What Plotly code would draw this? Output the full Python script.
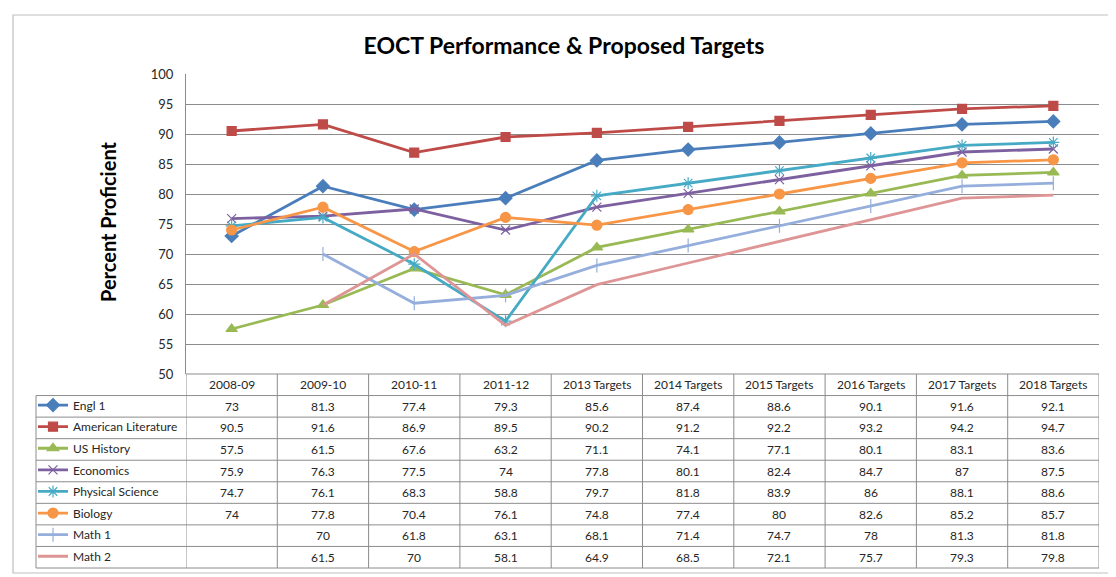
import plotly.graph_objects as go

# 数据
categories = ["2008-09", "2009-10", "2010-11", "2011-12", "2013 Targets", "2014 Targets",
              "2015 Targets", "2016 Targets", "2017 Targets", "2018 Targets"]

engl_1 = [73, 81.3, 77.4, 79.3, 85.6, 87.4, 88.6, 90.1, 91.6, 92.1]
american_lit = [90.5, 91.6, 86.9, 89.5, 90.2, 91.2, 92.2, 93.2, 94.2, 94.7]
us_history = [57.5, 61.5, 67.6, 63.2, 71.1, 74.1, 77.1, 80.1, 83.1, 83.6]
economics = [75.9, 76.3, 77.5, 74, 77.8, 80.1, 82.4, 84.7, 87, 87.5]
physical_science = [74.7, 76.1, 68.3, 58.8, 79.7, 81.8, 83.9, 86, 88.1, 88.6]
biology = [74, 77.8, 70.4, 76.1, 74.8, 77.4, 80, 82.6, 85.2, 85.7]
math_1 = [None, 70, 61.8, 63.1, 68.1, 71.4, 74.7, 78, 81.3, 81.8]
math_2 = [None, 61.5, 70, 58.1, 64.9, 68.5, 72.1, 75.7, 79.3, 79.8]

series = [
    ("Engl 1", engl_1, "#4A7EBB", "diamond", 10),
    ("American Literature", american_lit, "#BE4B48", "square", 9),
    ("US History", us_history, "#98B954", "triangle-up", 10),
    ("Economics", economics, "#7D60A0", "x-thin-open", 9),
    ("Physical Science", physical_science, "#46AAC5", "asterisk-open", 10),
    ("Biology", biology, "#F79646", "circle", 10),
    ("Math 1", math_1, "#95AEDB", "line-ns-open", 10),
    ("Math 2", math_2, "#DE9595", "circle", 0),
]

FONT = "Lato"
OFF = 8  # 页面 body 默认边距
W, H = 1116 - OFF, 577 - OFF
# 以下位置按参考图像素给出
PLOT_LEFT, PLOT_RIGHT, PLOT_TOP, PLOT_BOTTOM, TABLE_BOTTOM = 186, 1099, 74, 374, 568
ROW_H = (TABLE_BOTTOM - PLOT_BOTTOM) / 9
M_L, M_R = 18 - OFF, 1116 - PLOT_RIGHT
M_T, M_B = PLOT_TOP - OFF, 577 - TABLE_BOTTOM
PW, PH = W - M_L - M_R, H - M_T - M_B


def px_x(px):
    return (px - OFF - M_L) / PW


def px_y(py):
    return (H - M_B - (py - OFF)) / PH


fig = go.Figure()

for i, (name, vals, color, sym, size) in enumerate(series):
    fig.add_trace(go.Scatter(
        x=categories, y=vals, name=name, mode="lines+markers" if size else "lines",
        line=dict(color=color, width=2.8),
        marker=dict(symbol=sym, size=size, color=color, line=dict(color=color, width=1.2)),
        connectgaps=False, legendgroup=f"g{i}",
    ))

shapes = []
annotations = []
grid = "#8C8C8C"

# 表格横线
for r in range(10):
    y = px_y(PLOT_BOTTOM + r * ROW_H)
    x0 = px_x(PLOT_LEFT) if r == 0 else px_x(36)
    shapes.append(dict(type="line", xref="paper", yref="paper", x0=x0, x1=1, y0=y, y1=y,
                       line=dict(color=grid, width=1)))
# 表格竖线
shapes.append(dict(type="line", xref="paper", yref="paper", x0=px_x(36), x1=px_x(36),
                   y0=0, y1=px_y(PLOT_BOTTOM + ROW_H), line=dict(color=grid, width=1)))
for i in range(len(categories) + 1):
    shapes.append(dict(type="line", xref="x", yref="paper", x0=i - 0.5, x1=i - 0.5,
                       y0=0, y1=px_y(PLOT_BOTTOM), line=dict(color=grid, width=1)))
# 外框
shapes.append(dict(type="rect", xref="paper", yref="paper",
                   x0=px_x(13), x1=px_x(1111), y0=px_y(573), y1=px_y(15),
                   line=dict(color="#BFBFBF", width=1.2)))

cell_font = dict(family=FONT, size=12, color="#262626")
# 表头
for c in categories:
    annotations.append(dict(x=c, xref="x", yref="paper", y=px_y(PLOT_BOTTOM + ROW_H / 2),
                            xanchor="center", yanchor="middle",
                            text=c, showarrow=False, font=cell_font))
# 数值
for r, (name, vals, color, sym, size) in enumerate(series, start=1):
    yc = px_y(PLOT_BOTTOM + r * ROW_H + ROW_H / 2)
    for c, v in zip(categories, vals):
        if v is None:
            continue
        annotations.append(dict(x=c, xref="x", yref="paper", y=yc, text=f"{v:g}", showarrow=False,
                                xanchor="center", yanchor="middle", font=cell_font))

annotations.append(dict(x=px_x(108), y=px_y(222), xref="paper", yref="paper",
                        xanchor="center", yanchor="middle",
                        text="<b>Percent Proficient</b>", textangle=-90, showarrow=False,
                        font=dict(family=FONT, size=20, color="black")))

fig.update_layout(
    width=W, height=H,
    margin=dict(l=M_L, r=M_R, t=M_T, b=M_B, autoexpand=False),
    paper_bgcolor="white", plot_bgcolor="white",
    title=dict(text="<b>EOCT Performance & Proposed Targets</b>", x=(564 - OFF) / W,
               y=1 - (46 - OFF) / H, xanchor="center", yanchor="middle",
               font=dict(family=FONT, size=23, color="black")),
    xaxis=dict(type="category", categoryorder="array", categoryarray=categories,
               domain=[px_x(PLOT_LEFT), 1], range=[-0.5, 9.5], showticklabels=False,
               showgrid=False, zeroline=False, showline=False, fixedrange=True),
    yaxis=dict(domain=[px_y(PLOT_BOTTOM), 1], range=[50, 100], dtick=5, showgrid=True,
               gridcolor=grid, gridwidth=1, showline=True, linecolor=grid, zeroline=False,
               ticks="", ticklabelstandoff=9, automargin=False,
               tickfont=dict(family=FONT, size=13, color="#262626")),
    legend=dict(x=px_x(33), xanchor="left", y=px_y(PLOT_BOTTOM + ROW_H - 5), yanchor="top",
                traceorder="grouped", tracegroupgap=2.6, bgcolor="rgba(0,0,0,0)",
                font=dict(family=FONT, size=12, color="#262626"), itemwidth=30),
    shapes=shapes,
    annotations=annotations,
)

fig.write_html("out.html")
